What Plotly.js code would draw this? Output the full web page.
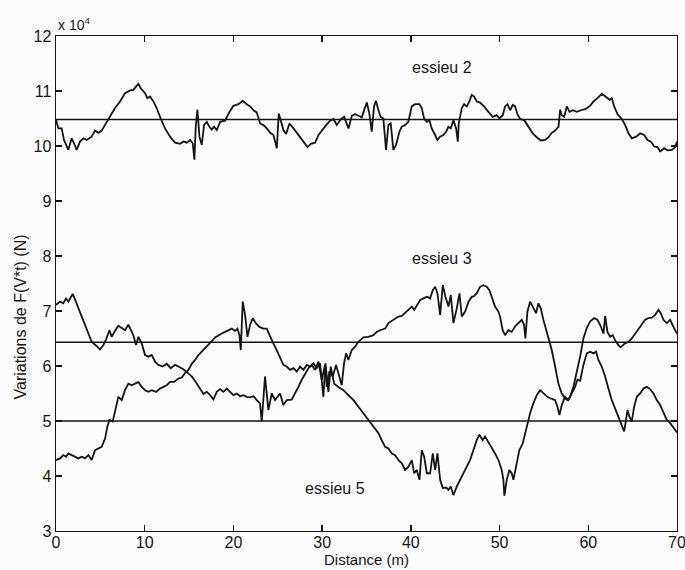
<!DOCTYPE html>
<html>
<head>
<meta charset="utf-8">
<script src="https://cdn.plot.ly/plotly-3.0.1.min.js"></script>
<style>html,body{margin:0;padding:0;background:#fdfcfc;}#chart{width:685px;height:570px;}</style>
</head>
<body>
<div id="chart"></div>
<script>
// Values in units of 10^4 N, distance in m
const essieu2X = [0.0,0.26,0.64,0.9,1.39,1.77,2.03,2.33,2.71,3.08,3.46,4.02,4.4,4.77,5.15,5.53,6.09,6.65,7.22,7.78,8.35,8.72,9.02,9.29,9.55,10.04,10.3,10.6,10.98,11.35,11.8,12.29,12.86,13.42,13.99,14.36,14.74,15.11,15.41,15.6,15.75,15.94,16.17,16.43,16.69,16.99,17.29,17.56,17.82,18.12,18.5,19.06,19.55,20.0,20.56,21.05,21.5,21.88,22.33,22.63,23.01,23.38,23.76,24.14,24.51,24.89,25.11,25.34,25.64,25.94,26.32,26.77,27.33,27.9,28.35,28.72,29.21,29.59,29.96,30.45,30.9,31.28,31.65,32.11,32.48,32.97,33.35,33.72,34.1,34.47,34.77,35.04,35.32,35.59,35.85,36.07,36.34,36.6,36.9,37.2,37.47,37.73,38.03,38.33,38.71,38.97,39.35,39.72,40.1,40.47,40.96,41.23,41.49,41.79,42.09,42.35,42.73,42.99,43.29,43.67,43.97,44.23,44.5,44.8,45.1,45.29,45.4,45.74,46.0,46.3,46.6,46.86,47.13,47.43,47.8,48.25,48.74,49.23,49.68,49.98,50.36,50.62,50.89,51.19,51.49,51.75,52.01,52.32,52.77,53.26,53.74,54.19,54.65,55.14,55.51,55.89,56.26,56.64,56.83,57.01,57.28,57.58,57.88,58.26,58.71,59.16,59.65,60.21,60.59,61.04,61.53,62.01,62.39,62.65,62.92,63.29,63.78,64.16,64.53,64.91,65.4,65.85,66.3,66.68,67.05,67.43,67.8,68.11,68.56,68.93,69.42,69.8,70.0];
const essieu2Y = [10.48,10.32,10.32,10.11,9.93,10.14,10.05,9.93,10.08,10.14,10.11,10.17,10.28,10.24,10.28,10.38,10.52,10.69,10.81,10.96,11.01,11.02,11.08,11.13,11.05,10.96,10.87,10.9,10.81,10.69,10.5,10.32,10.17,10.06,10.04,10.08,10.06,10.11,10.05,9.75,10.35,10.66,10.17,10.02,10.38,10.44,10.35,10.3,10.35,10.29,10.44,10.46,10.62,10.73,10.76,10.82,10.76,10.72,10.64,10.61,10.41,10.38,10.32,10.24,10.2,9.96,10.59,10.47,10.29,10.22,10.41,10.32,10.2,10.08,9.98,10.04,10.06,10.2,10.28,10.38,10.46,10.49,10.38,10.49,10.53,10.32,10.55,10.58,10.55,10.52,10.67,10.79,10.59,10.26,10.72,10.82,10.65,10.53,10.5,9.93,10.38,10.41,9.93,10.02,10.26,10.35,10.38,10.44,10.72,10.76,10.76,10.69,10.5,10.44,10.47,10.32,10.2,10.11,10.17,10.2,10.26,10.35,10.32,10.47,10.32,10.08,10.41,10.69,10.76,10.72,10.81,10.93,10.9,10.81,10.79,10.72,10.62,10.53,10.56,10.5,10.56,10.72,10.76,10.65,10.75,10.72,10.58,10.49,10.47,10.35,10.23,10.16,10.1,10.11,10.16,10.24,10.28,10.35,10.66,10.56,10.53,10.72,10.62,10.65,10.62,10.65,10.67,10.73,10.81,10.87,10.95,10.89,10.84,10.87,10.72,10.58,10.49,10.38,10.23,10.14,10.17,10.23,10.2,10.11,10.08,9.99,9.98,9.9,9.96,9.92,9.93,9.98,10.08];

const essieu3X = [0.0,0.45,0.83,1.13,1.39,1.88,2.14,2.52,2.9,3.27,3.65,4.02,4.59,4.96,5.34,5.64,6.02,6.28,6.65,7.03,7.41,7.78,8.16,8.42,8.72,9.02,9.29,9.66,10.04,10.41,10.79,11.17,11.54,12.03,12.48,12.93,13.42,13.8,14.36,14.81,15.3,15.79,16.24,16.62,16.99,17.37,17.75,18.12,18.5,18.87,19.25,19.62,20.0,20.38,20.75,21.13,21.5,21.88,22.26,22.63,23.0,23.19,23.56,23.94,24.32,24.69,25.26,25.63,26.01,26.57,26.95,27.32,27.7,28.08,28.45,28.83,29.2,29.58,29.95,30.33,30.52,30.82,31.2,31.57,31.95,32.21,32.47,32.7,32.96,33.34,33.71,34.09,34.65,35.22,35.78,36.16,36.53,37.1,37.47,38.04,38.6,38.98,39.35,39.73,40.11,40.37,40.67,41.05,41.42,41.8,42.17,42.47,42.74,43.0,43.3,43.6,43.9,44.24,44.5,44.8,45.18,45.48,45.74,46.12,46.5,46.87,47.05,47.42,47.8,48.17,48.55,48.85,49.11,49.49,49.87,50.05,50.35,50.62,50.99,51.37,51.75,52.12,52.5,52.76,52.91,53.14,53.44,53.74,54.11,54.38,54.64,54.94,55.39,55.88,56.26,56.63,57.01,57.38,57.65,57.95,58.32,58.7,59.08,59.45,59.83,60.2,60.65,61.03,61.41,61.71,61.9,62.16,62.46,62.76,63.02,63.4,63.66,64.04,64.53,64.9,65.28,65.65,66.03,66.41,66.78,67.16,67.54,67.91,68.17,68.47,68.85,69.23,69.6,70.0];
const essieu3Y = [7.11,7.17,7.14,7.23,7.17,7.31,7.21,7.05,6.9,6.75,6.56,6.44,6.36,6.3,6.38,6.48,6.65,6.53,6.64,6.73,6.69,6.65,6.75,6.65,6.56,6.38,6.53,6.41,6.2,6.17,6.2,6.08,6.02,5.99,6.04,5.96,6.02,5.99,5.94,5.88,5.81,5.7,5.59,5.49,5.53,5.47,5.39,5.53,5.58,5.53,5.59,5.53,5.47,5.5,5.45,5.47,5.44,5.43,5.45,5.38,5.32,4.99,5.81,5.2,5.5,5.38,5.5,5.29,5.38,5.39,5.5,5.62,5.75,5.87,5.96,6.02,5.93,6.08,5.75,6.02,5.62,5.9,5.81,6.02,5.81,5.65,6.05,6.23,6.11,6.29,6.35,6.44,6.52,6.53,6.56,6.62,6.65,6.68,6.78,6.84,6.9,6.91,6.96,7.02,7.08,7.02,7.11,7.2,7.23,7.26,7.23,7.38,7.44,7.32,6.93,7.47,7.26,7.08,7.29,6.78,7.05,7.32,6.9,6.99,7.17,7.26,7.26,7.32,7.44,7.47,7.44,7.38,7.26,7.08,6.99,6.9,6.65,6.56,6.65,6.62,6.72,6.78,6.84,6.75,6.5,6.99,7.17,7.08,6.96,7.14,7.05,6.84,6.59,6.29,5.99,5.68,5.5,5.41,5.38,5.44,5.62,5.87,6.17,6.5,6.69,6.81,6.87,6.84,6.72,6.59,6.91,6.62,6.53,6.56,6.47,6.38,6.34,6.4,6.44,6.5,6.59,6.68,6.75,6.84,6.87,6.88,6.93,7.02,6.96,6.84,6.78,6.84,6.71,6.59];

const essieu5X = [0.0,0.45,0.83,1.13,1.39,1.77,2.14,2.52,2.9,3.27,3.65,4.02,4.4,4.78,5.15,5.53,5.79,6.02,6.39,6.65,7.03,7.41,7.78,8.16,8.53,8.91,9.29,9.66,10.04,10.41,10.79,11.28,11.73,12.11,12.48,12.86,13.31,13.8,14.17,14.55,14.93,15.3,15.68,16.05,16.43,16.81,17.18,17.56,17.93,18.31,18.69,19.06,19.44,19.81,20.19,20.45,20.68,20.83,21.05,21.32,21.58,21.88,22.18,22.56,22.93,23.38,23.75,24.13,24.5,24.88,25.26,25.63,26.01,26.38,26.76,27.14,27.51,27.89,28.26,28.64,29.02,29.39,29.77,30.14,30.37,30.71,30.97,31.35,31.83,32.4,32.96,33.53,34.09,34.65,35.22,35.78,36.35,36.72,37.1,37.47,37.85,38.23,38.6,38.98,39.35,39.73,40.11,40.37,40.67,40.97,41.23,41.5,41.8,42.17,42.47,42.74,43.0,43.3,43.6,43.98,44.24,44.5,44.8,45.18,45.56,45.93,46.31,46.67,47.05,47.42,47.72,48.1,48.36,48.74,49.11,49.49,49.87,50.24,50.43,50.54,50.81,51.11,51.37,51.56,51.86,52.23,52.61,52.87,53.14,53.44,53.81,54.19,54.56,54.94,55.39,55.77,56.26,56.52,56.75,57.01,57.38,57.76,58.14,58.51,58.78,59.08,59.45,59.83,60.2,60.58,60.88,61.14,61.52,61.9,62.27,62.65,63.02,63.4,63.78,64.04,64.26,64.41,64.64,64.9,65.17,65.47,65.84,66.22,66.59,66.97,67.35,67.72,68.1,68.47,68.85,69.23,69.6,70.0];
const essieu5Y = [4.29,4.32,4.38,4.35,4.41,4.38,4.35,4.32,4.35,4.32,4.38,4.29,4.47,4.5,4.53,4.68,4.9,5.02,4.99,5.17,5.44,5.38,5.56,5.68,5.65,5.68,5.71,5.62,5.56,5.53,5.56,5.53,5.59,5.62,5.65,5.71,5.71,5.77,5.79,5.87,5.93,6.04,6.11,6.2,6.26,6.32,6.38,6.45,6.52,6.56,6.59,6.62,6.65,6.68,6.64,6.68,6.56,6.29,7.17,6.92,6.53,6.75,6.87,6.77,6.71,6.68,6.68,6.53,6.41,6.29,6.14,6.02,5.99,5.93,5.96,5.9,5.99,5.93,6.02,5.99,6.05,5.96,6.05,5.44,6.05,5.53,5.99,5.68,5.62,5.56,5.47,5.38,5.26,5.14,5.02,4.9,4.78,4.65,4.53,4.5,4.41,4.38,4.29,4.23,4.11,4.17,4.29,4.05,4.11,3.93,4.47,4.35,4.05,4.05,4.41,4.11,4.41,3.93,3.78,3.79,3.75,3.81,3.65,3.81,3.93,4.05,4.17,4.29,4.47,4.65,4.75,4.65,4.72,4.62,4.53,4.41,4.29,4.11,3.93,3.64,3.93,4.11,4.05,3.93,4.17,4.47,4.59,4.78,4.96,5.14,5.32,5.47,5.56,5.5,5.44,5.41,5.38,5.26,5.11,5.29,5.44,5.38,5.5,5.62,5.75,5.73,6.02,6.23,6.26,6.23,6.26,6.11,5.99,5.81,5.59,5.38,5.23,5.08,4.93,4.81,5.02,5.2,5.08,4.99,5.26,5.44,5.5,5.59,5.62,5.58,5.5,5.38,5.29,5.17,5.02,4.96,4.87,4.79];

// mean levels (horizontal lines)
const meanLevels = [10.48, 6.43, 5.0];
const meanSpan = [0, 70];

const labelText = ['essieu 2', 'essieu 3', 'essieu 5'];
const labelX = [43.5, 43.5, 31.4];
const labelY = [11.42, 7.95, 3.78];

const xTicks = [0, 10, 20, 30, 40, 50, 60, 70];
const yTicks = [3, 4, 5, 6, 7, 8, 9, 10, 11, 12];

const ink = '#141414';
const traces = [];
[[essieu2X, essieu2Y], [essieu3X, essieu3Y], [essieu5X, essieu5Y]].forEach(function (s) {
  traces.push({x: s[0], y: s[1], type: 'scatter', mode: 'lines',
    line: {color: ink, width: 1.8}, hoverinfo: 'skip', showlegend: false});
});
meanLevels.forEach(function (m) {
  traces.push({x: meanSpan, y: [m, m], type: 'scatter', mode: 'lines',
    line: {color: ink, width: 1.5}, hoverinfo: 'skip', showlegend: false});
});

const font = 'Liberation Sans, Arial, Helvetica, sans-serif';
const annotations = labelText.map(function (t, i) {
  return {x: labelX[i], y: labelY[i], xref: 'x', yref: 'y', text: t, showarrow: false,
    font: {family: font, size: 16, color: ink}};
});
annotations.push({x: 0, y: 1, xref: 'paper', yref: 'paper', xanchor: 'left', yanchor: 'bottom',
  yshift: 1, text: 'x 10<sup>4</sup>', showarrow: false, font: {family: font, size: 14, color: ink}});
// y-axis title as rotated annotation
annotations.push({x: 0, y: 0.5, xref: 'paper', yref: 'paper', xanchor: 'center', yanchor: 'middle',
  xshift: -36, yshift: -34, textangle: -90, text: 'Variations de F(V*t) (N)', showarrow: false,
  font: {family: font, size: 16, color: ink}});

const axisCommon = {
  showline: true, linecolor: ink, linewidth: 1.4, mirror: 'ticks',
  ticks: 'inside', ticklen: 6, tickcolor: ink, tickwidth: 1.3,
  showgrid: false, zeroline: false, fixedrange: true, ticklabeloverflow: 'allow',
  tickfont: {family: font, size: 16, color: ink}
};

const layout = {
  width: 685, height: 570,
  margin: {l: 56, r: 8, t: 36, b: 39},
  paper_bgcolor: '#fdfcfc', plot_bgcolor: '#fdfcfc',
  font: {family: font, color: ink},
  xaxis: Object.assign({}, axisCommon, {
    range: [0, 70], tickvals: xTicks, ticktext: xTicks.map(String), ticklabelstandoff: -4,
    title: {text: 'Distance (m)', font: {family: font, size: 15, color: ink}, standoff: 0}
  }),
  yaxis: Object.assign({}, axisCommon, {
    range: [3, 12], tickvals: yTicks, ticktext: yTicks.map(String)
  }),
  annotations: annotations
};

Plotly.newPlot('chart', traces, layout, {displayModeBar: false, staticPlot: true});
</script>
</body>
</html>
